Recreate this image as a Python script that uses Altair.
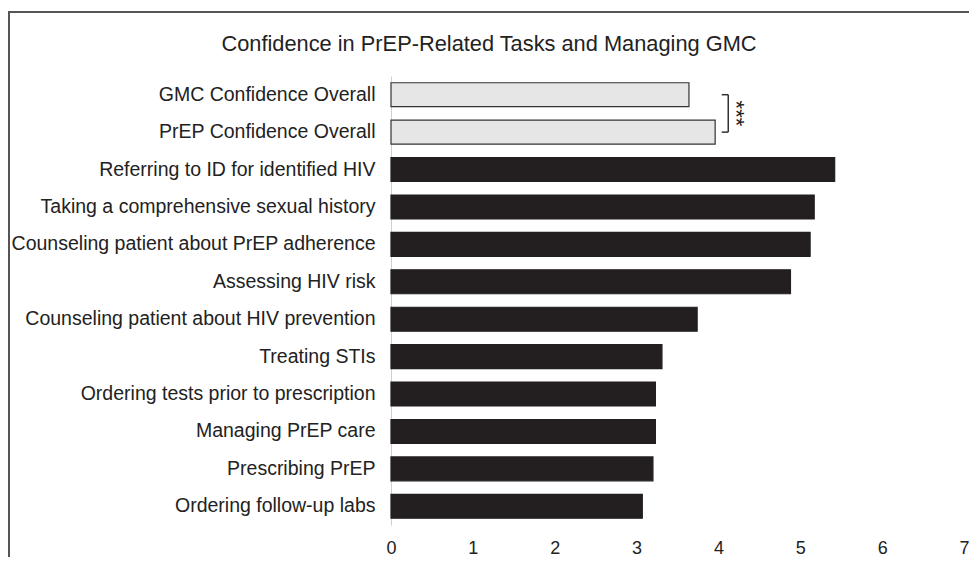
import altair as alt
import pandas as pd

tasks = [
    "GMC Confidence Overall",
    "PrEP Confidence Overall",
    "Referring to ID for identified HIV",
    "Taking a comprehensive sexual history",
    "Counseling patient about PrEP adherence",
    "Assessing HIV risk",
    "Counseling patient about HIV prevention",
    "Treating STIs",
    "Ordering tests prior to prescription",
    "Managing PrEP care",
    "Prescribing PrEP",
    "Ordering follow-up labs",
]
scores = [3.64, 3.96, 5.42, 5.17, 5.12, 4.88, 3.74, 3.31, 3.23, 3.23, 3.20, 3.07]
kinds = ["overall", "overall"] + ["task"] * 10
x_ticks = [0, 1, 2, 3, 4, 5, 6, 7]
title_text = "Confidence in PrEP-Related Tasks and Managing GMC"

FONT = "Liberation Sans"
W, H = 573, 449

df = pd.DataFrame({"task": tasks, "score": scores, "kind": kinds})

yscale = alt.Scale(domain=tasks, paddingInner=0.36, paddingOuter=0.18)

yenc = alt.Y(
    "task:N",
    scale=yscale,
    axis=alt.Axis(
        title=None, ticks=False, domainColor="#cfcfcf", domainWidth=1,
        labelFontSize=19.5, labelPadding=16, labelLimit=500, labelColor="#222222",
        labelFont=FONT,
    ),
)

bars = alt.Chart(df).mark_bar(strokeWidth=1.2).encode(
    x=alt.X(
        "score:Q",
        scale=alt.Scale(domain=[0, 7], nice=False),
        axis=alt.Axis(
            values=x_ticks, format="d", title=None, domain=False, ticks=False, grid=False,
            labelFlush=False, labelFontSize=18, labelPadding=14, labelColor="#222222",
            labelFont=FONT,
        ),
    ),
    y=yenc,
    color=alt.Color("kind:N", scale=alt.Scale(domain=["overall", "task"], range=["#e6e6e6", "#231f20"]), legend=None),
    stroke=alt.Stroke("kind:N", scale=alt.Scale(domain=["overall", "task"], range=["#333333", "#231f20"]), legend=None),
)

# significance bracket between the two overall bars
bx1, bx2 = 4.04, 4.12
hseg = pd.DataFrame({"task": [tasks[0], tasks[1]], "x1": [bx1, bx1], "x2": [bx2, bx2]})
vseg = pd.DataFrame({"task": [tasks[0]], "t2": [tasks[1]], "x": [bx2]})
star = pd.DataFrame({"task": [tasks[0]], "x": [4.21], "label": ["***"]})

h_rules = alt.Chart(hseg).mark_rule(color="#333333", strokeWidth=1.5).encode(
    x="x1:Q", x2="x2:Q", y=alt.Y("task:N", scale=yscale)
)
v_rule = alt.Chart(vseg).mark_rule(color="#333333", strokeWidth=1.5).encode(
    x="x:Q", y=alt.Y("task:N", scale=yscale), y2="t2:N"
)
stars = alt.Chart(star).mark_text(
    angle=90, fontSize=22, dx=18.7, dy=0, align="center", baseline="middle", color="#222222", font=FONT
).encode(x="x:Q", y=alt.Y("task:N", scale=yscale), text="label:N")

frame = alt.Chart(pd.DataFrame({"f": [0]})).mark_rect(
    fillOpacity=0, stroke="#555555", strokeWidth=2
).encode(
    x=alt.value(-382), y=alt.value(-64), x2=alt.value(W + 40), y2=alt.value(H + 80)
)

title = alt.Chart(pd.DataFrame({"t": [title_text]})).mark_text(
    fontSize=21.8, font=FONT, color="#222222", align="center", baseline="middle"
).encode(text="t:N", x=alt.value(98), y=alt.value(-32))

chart = alt.layer(bars, h_rules, v_rule, stars, frame, title).properties(
    width=W,
    height=H,
    autosize=alt.AutoSizeParams(type="none"),
    padding={"left": 383, "top": 68, "right": 5, "bottom": 32},
).configure(font=FONT).configure_view(stroke=None)

chart.save("out.html", embed_options={"renderer": "svg", "actions": False})
